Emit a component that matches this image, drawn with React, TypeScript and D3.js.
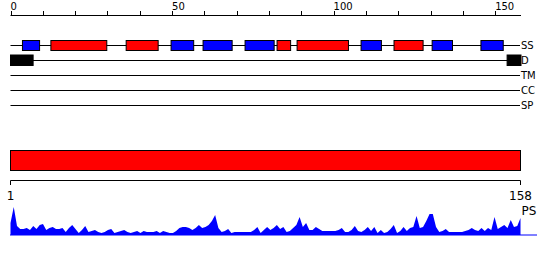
import React from "react";
import * as d3 from "d3";

const seqLength = 158;
const axisTicks = [0, 10, 20, 30, 40, 50, 60, 70, 80, 90, 100, 110, 120, 130, 140, 150];
const axisLabels = [0, 50, 100, 150];
const tracks = ["SS", "D", "TM", "CC", "SP"];
const helixSegments = [[12.5, 29.8], [35.8, 45.7], [82.5, 86.7], [88.7, 104.6], [118.7, 127.7]];
const strandSegments = [[3.7, 9.0], [49.7, 56.7], [59.6, 68.6], [72.6, 81.6], [108.5, 114.8], [130.5, 136.8], [145.6, 152.5]];
const disorderSegments = [[0, 7.0], [153.7, 158]];
const domainBar = [[1, 158]];
const profileLabel = "PS";
const profileValues = [
  12, 28, 9, 6, 6, 7, 5, 9, 6, 10, 11, 5, 7, 8, 6, 6, 7, 3, 7, 10,
  6, 2, 5, 9, 3, 4, 5, 3, 2, 3, 5, 6, 2, 3, 4, 5, 3, 2, 3, 4,
  2, 4, 3, 3, 3, 4, 2, 4, 3, 2, 2, 4, 7, 8, 8, 7, 5, 7, 10, 7,
  8, 10, 14, 20, 7, 3, 4, 6, 2, 3, 3, 3, 3, 3, 3, 5, 8, 2, 5, 8,
  5, 7, 10, 6, 8, 3, 4, 7, 10, 18, 8, 12, 5, 5, 8, 6, 4, 4, 4, 4,
  4, 5, 7, 3, 3, 5, 9, 4, 3, 5, 8, 4, 8, 2, 5, 2, 3, 6, 10, 2,
  4, 8, 4, 7, 8, 19, 7, 8, 14, 21, 21, 8, 3, 4, 6, 3, 3, 3, 3, 3,
  4, 5, 7, 5, 4, 7, 4, 7, 5, 18, 6, 8, 10, 7, 15, 8, 9, 17,
];

const FONT = "DejaVu Sans, sans-serif";

export default function App() {
  const x = d3.scaleLinear().domain([0, seqLength]).range([10.5, 521]);
  const xb = d3.scaleLinear().domain([1, seqLength]).range([10.5, 520.5]);
  const y = d3.scaleLinear().domain([0, 30]).range([235, 205]);
  const trackY = d3.scalePoint<string>().domain(tracks).range([45.5, 105.5]);

  const area = d3
    .area<number>()
    .x((_, i) => xb(i + 1))
    .y0(y(0))
    .y1((d) => y(d))
    .curve(d3.curveLinear);

  const ssY = trackY("SS")!;
  const dY = trackY("D")!;

  return (
    <svg width={550} height={260} style={{ display: "block", position: "absolute", left: 0, top: 0 }} fontFamily={FONT}>
      <rect width={550} height={260} fill="#fff" />
      {/* top axis */}
      <line x1={x(0)} x2={x(seqLength)} y1={15.5} y2={15.5} stroke="#000" />
      {axisTicks.map((t) => (
        <line key={t} x1={Math.round(x(t)) + 0.5} x2={Math.round(x(t)) + 0.5} y1={11} y2={15.5} stroke="#000" />
      ))}
      {axisLabels.map((t) => (
        <text key={t} x={x(t)} y={10} fontSize={10} fill="#000">
          {t}
        </text>
      ))}
      {/* track lines */}
      {tracks.map((t) => (
        <g key={t}>
          <line x1={x(0)} x2={520} y1={trackY(t)} y2={trackY(t)} stroke="#000" />
          <text x={521} y={trackY(t)! + 3.5} fontSize={10} fill="#000">
            {t}
          </text>
        </g>
      ))}
      {helixSegments.map(([a, b], i) => (
        <rect key={"h" + i} x={x(a)} y={ssY - 5} width={x(b) - x(a)} height={10} fill="#ff0000" stroke="#000" />
      ))}
      {strandSegments.map(([a, b], i) => (
        <rect key={"s" + i} x={x(a)} y={ssY - 5} width={x(b) - x(a)} height={10} fill="#0000ff" stroke="#000" />
      ))}
      {disorderSegments.map(([a, b], i) => (
        <rect key={"d" + i} x={x(a)} y={dY - 5.5} width={x(b) - x(a)} height={10.5} fill="#000" stroke="#000" />
      ))}
      {/* domain bar */}
      {domainBar.map(([a, b], i) => (
        <rect key={"b" + i} x={xb(a)} y={150.5} width={xb(b) - xb(a)} height={20} fill="#ff0000" stroke="#000" />
      ))}
      {/* bottom axis */}
      <line x1={xb(1)} x2={xb(seqLength)} y1={180.5} y2={180.5} stroke="#000" />
      {[1, seqLength].map((t) => (
        <g key={t}>
          <line x1={xb(t)} x2={xb(t)} y1={180.5} y2={185} stroke="#000" />
          <text x={xb(t)} y={200} fontSize={12} textAnchor="middle" fill="#000">
            {t}
          </text>
        </g>
      ))}
      <text x={521.5} y={215} fontSize={12} fill="#000">
        {profileLabel}
      </text>
      {/* profile */}
      <path d={area(profileValues) ?? ""} fill="#0000ff" />
      <line x1={10} x2={537} y1={235} y2={235} stroke="#0000ff" />
    </svg>
  );
}
